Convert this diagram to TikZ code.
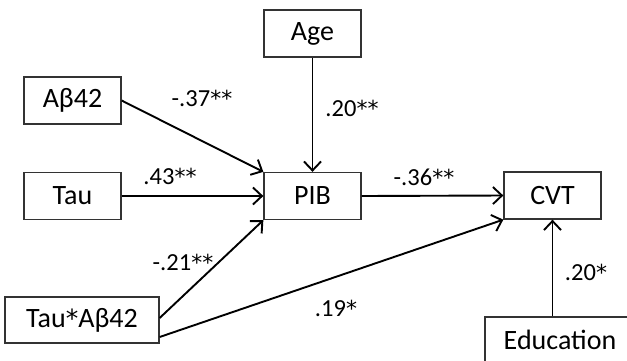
\documentclass[tikz,border=0pt]{standalone}
\usepackage{fontspec}
\setmainfont{Carlito}
\newfontfamily\astfont{DejaVu Sans}
\newcommand\sig{{\astfont\fontsize{22}{24}\selectfont *}}
\newcommand\bigstar{{\astfont\fontsize{25}{27}\selectfont *}}
\usetikzlibrary{arrows.meta,calc}
\begin{document}
\begin{tikzpicture}[x=1pt,y=-1pt,
  varbox/.style={draw=black!80, line width=1.3pt, minimum width=97pt, minimum height=47pt,
    inner sep=0pt, font=\fontsize{28}{30}\selectfont},
  path/.style={line width=1.9pt, -{Straight Barb[length=9pt,width=17pt,line width=1.9pt]}},
  coef/.style={font=\fontsize{24.5}{26}\selectfont, inner sep=0pt}]
\useasboundingbox (0,0) rectangle (627,360);
\clip (0,0) rectangle (627,360);
% variables
\node[varbox] (age) at (312.5,33.5) {Age};
\node[varbox] (ab) at (72.5,100.5) {Aβ42};
\node[varbox] (tau) at (72.5,196) {Tau};
\node[varbox] (pib) at (312.5,196) {PIB};
\node[varbox] (cvt) at (552.5,195.5) {CVT};
\node[varbox, minimum width=154pt, minimum height=46pt] (ta) at (82,320) {Tau\bigstar Aβ42};
\node[varbox, minimum width=150pt, minimum height=46pt] (edu) at (560,340) {Education};
% paths
\draw[path] (ab.east) -- (pib.north west);
\draw[path] (age.south) -- (pib.north);
\draw[path] (tau.east) -- (pib.west);
\draw[path] ([yshift=2pt]ta.east) -- (pib.south west);
\draw[path] ([yshift=-17pt]ta.east) -- (cvt.south west);
\draw[path] (pib.east) -- (cvt.west);
\draw[path] (cvt.south |- edu.north) -- (cvt.south);
% coefficients
\node[coef] (c1) at (202,98) {-.37\sig\sig};
\node[coef] (c2) at (170,176) {.43\sig\sig};
\node[coef] (c3) at (352,108) {.20\sig\sig};
\node[coef] (c4) at (424,177) {-.36\sig\sig};
\node[coef] (c5) at (183,262) {-.21\sig\sig};
\node[coef] (c6) at (336,308) {.19\sig};
\node[coef] (c7) at (586,272) {.20\sig};
\end{tikzpicture}
\end{document}
